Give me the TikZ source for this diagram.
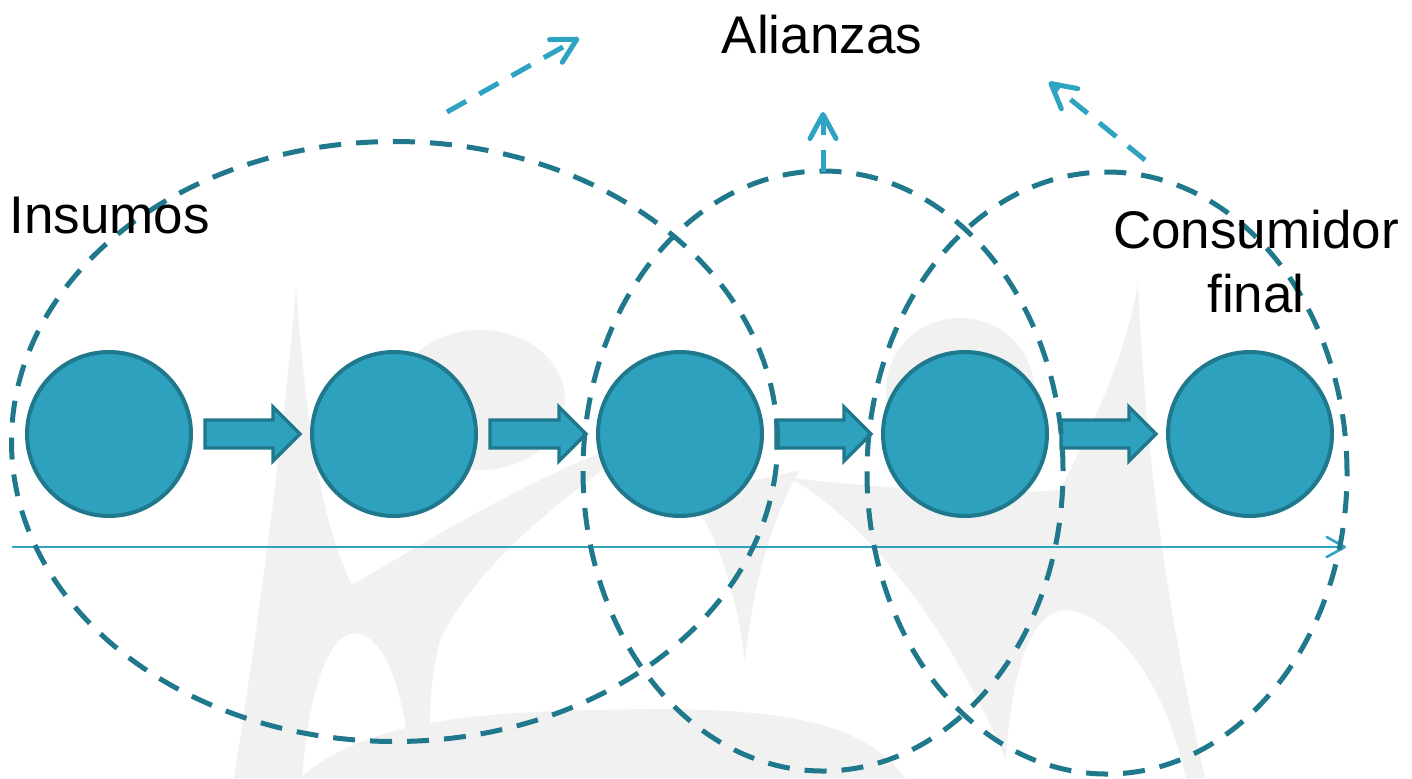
\documentclass[tikz,border=0pt]{standalone}
\usepackage{fontspec}
\setmainfont{Liberation Sans}
\usetikzlibrary{arrows.meta,shapes.geometric,calc}
\definecolor{cfill}{HTML}{2EA1BE}
\definecolor{cdark}{HTML}{1F788C}
\definecolor{clight}{HTML}{2EA3C2}
\definecolor{wm}{HTML}{F1F1F1}
\begin{document}
\begin{tikzpicture}[x=0.5pt,y=-0.5pt,
  stage/.style={circle,fill=cfill,draw=cdark,line width=2pt,minimum size=82pt,inner sep=0pt},
  flow/.style={fill=cfill,draw=cdark,line width=1.7pt,line join=miter},
  ring/.style={ellipse,draw=cdark,line width=2.5pt,dash pattern=on 11pt off 7.5pt,inner sep=0pt},
  link/.style={draw=clight,line width=2.5pt,dash pattern=on 11pt off 7.5pt,-{Straight Barb[length=12pt,width=13pt,round]}},
  txt/.style={font=\fontsize{26.5}{32}\selectfont,inner sep=0pt},
]
\useasboundingbox (0,0) rectangle (1412,778);
\fill[white] (0,0) rectangle (1412,778);

% watermark
\fill[wm] (234,778) .. controls (262,600) and (285,420) .. (296,288) .. controls (306,420) and (320,520) .. (352,585) .. controls (430,540) and (540,470) .. (650,435) .. controls (560,500) and (480,560) .. (440,640) .. controls (425,700) and (430,745) .. (438,778) -- (412,778) .. controls (405,690) and (385,635) .. (355,633) .. controls (325,635) and (308,700) .. (302,778) -- cycle;
\fill[wm] (480,400) ellipse [x radius=42.5pt, y radius=35pt];
\fill[wm] (960,390) ellipse [x radius=37pt, y radius=36pt];
\fill[wm] (1138,283) .. controls (1145,450) and (1165,600) .. (1205,778) -- (1186,778) .. controls (1165,680) and (1110,610) .. (1063,610) .. controls (1025,615) and (1010,690) .. (1006,760) .. controls (960,650) and (880,530) .. (790,478) .. controls (900,490) and (1000,495) .. (1060,490) .. controls (1090,430) and (1125,360) .. (1138,283) -- cycle;
\fill[wm] (690,495) .. controls (720,540) and (738,600) .. (745,662) .. controls (752,590) and (770,520) .. (800,470) -- cycle;
\fill[wm] (300,778) .. controls (360,725) and (460,712) .. (600,710) .. controls (760,706) and (860,715) .. (905,778) -- cycle;

% stages
\node[stage] (c1) at (109,434) {};
\node[stage] (c2) at (394,434) {};
\node[stage] (c3) at (680,434) {};
\node[stage] (c4) at (965,434) {};
\node[stage] (c5) at (1250,434) {};

\foreach \i/\j in {1/2,2/3,3/4,4/5}{
  \coordinate (s\i) at ($(c\i.east)+(12,0)$);
  \coordinate (t\i) at ($(c\j.west)+(-10,0)$);
  \draw[flow] ($(s\i)+(0,-14)$) -- ($(t\i)+(-27,-14)$) -- ($(t\i)+(-27,-27)$) -- (t\i)
    -- ($(t\i)+(-27,27)$) -- ($(t\i)+(-27,14)$) -- ($(s\i)+(0,14)$) -- cycle;
}

% timeline
\coordinate (h0) at (12,547);
\coordinate (h1) at (1346,547);
\draw[clight,line width=1.3pt,-{Straight Barb[length=9pt,width=10pt,round]}] (h0) -- (h1);

% groups
\node[ring,minimum width=383pt,minimum height=300pt] (e1) at (394.5,441.5) {};
\node[ring,minimum width=240pt,minimum height=300pt] (e2) at (823,471) {};
\node[ring,minimum width=240pt,minimum height=301pt] (e3) at (1107,473) {};

% alliance arrows
\coordinate (a1s) at (447,112);
\coordinate (a1e) at (579,38);
\coordinate (a2s) at (823,172);
\coordinate (a2e) at (823,112);
\coordinate (a3s) at (1145,160);
\coordinate (a3e) at (1049,82);
\draw[link] (a1s) -- (a1e);
\draw[link] (a2s) -- (a2e);
\draw[link] (a3s) -- (a3e);

% texts
\node[txt,anchor=base] (al) at (822,53) {Alianzas};
\node[txt,anchor=base west] (in) at (9,233) {Insumos};
\node[txt,anchor=base,align=center] (cf) at (1256,312) {Consumidor\\final};
\end{tikzpicture}
\end{document}
